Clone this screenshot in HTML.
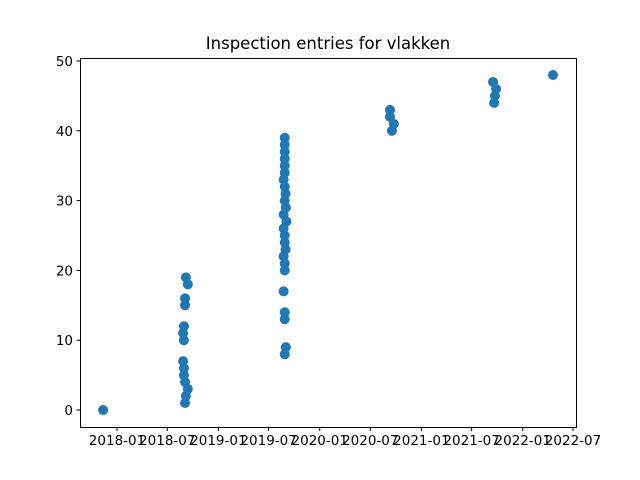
<!DOCTYPE html>
<html><head><meta charset="utf-8"><style>body{margin:0;background:#fff}svg{display:block}</style></head>
<body>
<svg id="chart" width="640" height="480" xmlns="http://www.w3.org/2000/svg" font-family="DejaVu Sans, Liberation Sans, sans-serif"></svg>
<script>
const dates = ["2017-11-12","2018-09-03","2018-09-06","2018-09-13","2018-09-03","2018-08-30","2018-08-30","2018-08-27","2019-08-28","2019-09-01","2018-08-30","2018-08-27","2018-08-30","2019-08-28","2019-08-28","2018-09-03","2018-09-03","2019-08-24","2018-09-13","2018-09-06",
"2019-08-28","2019-08-28","2019-08-24","2019-08-31","2019-08-28","2019-08-28","2019-08-24","2019-09-03","2019-08-24","2019-09-01","2019-08-28","2019-08-31","2019-08-28","2019-08-24","2019-08-28","2019-08-28","2019-08-28","2019-08-28","2019-08-28","2019-08-28",
"2020-09-17","2020-09-24","2020-09-10","2020-09-10","2021-09-20","2021-09-23","2021-09-27","2021-09-16","2022-04-20"];
const values = [0,1,2,3,4,5,6,7,8,9,10,11,12,13,14,15,16,17,18,19,20,21,22,23,24,25,26,27,28,29,30,31,32,33,34,35,36,37,38,39,40,41,42,43,44,45,46,47,48];
const xTickDates = ["2018-01-01","2018-07-01","2019-01-01","2019-07-01","2020-01-01","2020-07-01","2021-01-01","2021-07-01","2022-01-01","2022-07-01"];
const xTickLabels = ["2018-01","2018-07","2019-01","2019-07","2020-01","2020-07","2021-01","2021-07","2022-01","2022-07"];
const yTicks = [0,10,20,30,40,50];

const svg = document.getElementById('chart');
const NS = 'http://www.w3.org/2000/svg';
const L=80,R=576,T=58,B=427;
const t0 = Date.parse("2018-01-01"), t1 = Date.parse("2022-07-01");
const xs = d => 117 + (Date.parse(d)-t0)/(t1-t0)*(573-117);
const ys = v => 410 - v*(410-61)/50;
function mk(tag, attrs, parent){const e=document.createElementNS(NS,tag);for(const k in attrs)e.setAttribute(k,attrs[k]);(parent||svg).appendChild(e);return e;}

const title = mk('text',{x:328,y:49,'text-anchor':'middle','font-size':16.5,fill:'#000'});


title.textContent='Inspection entries for vlakken';

const pts = mk('g',{});


dates.forEach((d,i)=>{
  const c = mk('circle',{cx:xs(d),cy:ys(values[i]),r:5,fill:'#1f77b4'},pts);
  
  
});

const frame = mk('rect',{x:L+0.5,y:T+0.5,width:R-L,height:B-T,fill:'none',stroke:'#000','stroke-width':1});



const xg = mk('g',{});


xTickDates.forEach((d,i)=>{
  const x = xs(d);
  mk('line',{x1:x,x2:x,y1:B+0.5,y2:B+4,stroke:'#000'},xg);
  const t = mk('text',{x:x,y:B+18,'text-anchor':'middle','font-size':13.5,fill:'#000'},xg);
  
  
  t.textContent = xTickLabels[i];
});
const yg = mk('g',{});


yTicks.forEach(v=>{
  const y = ys(v);
  mk('line',{x1:L-3.5,x2:L+0.5,y1:y,y2:y,stroke:'#000'},yg);
  const t = mk('text',{x:L-7,y:y+5,'text-anchor':'end','font-size':13.5,fill:'#000'},yg);
  
  
  t.textContent = v;
});
</script>
</body></html>
